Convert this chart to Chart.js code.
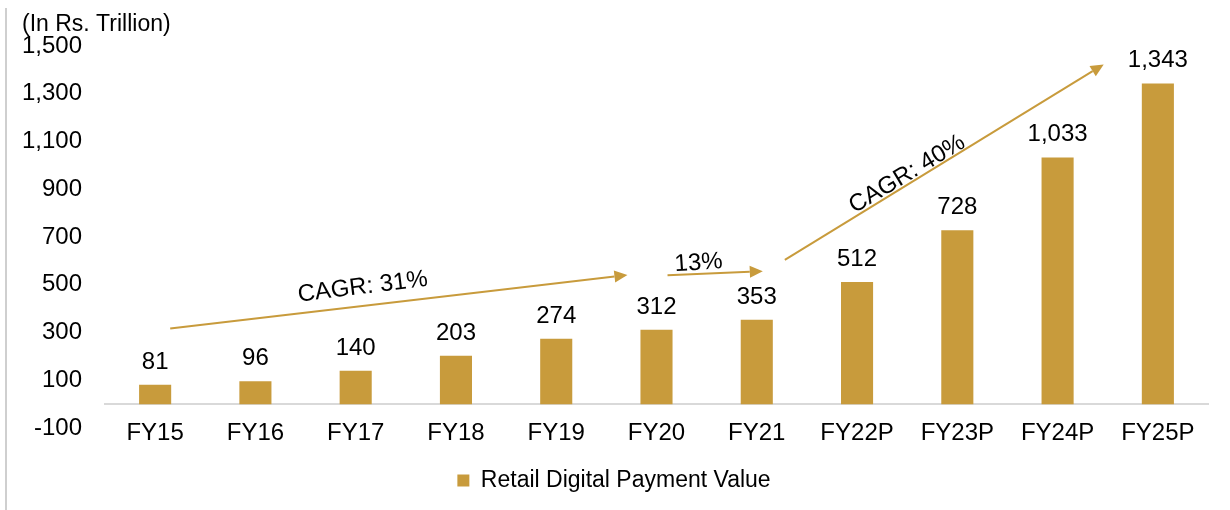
<!DOCTYPE html>
<html>
<head>
<meta charset="utf-8">
<script src="https://cdn.jsdelivr.net/npm/chart.js@4/dist/chart.umd.min.js"></script>
<style>
  html, body { margin: 0; padding: 0; background: #fff; }
  #wrap { width: 1230px; height: 510px; position: relative; }
</style>
</head>
<body>
<div id="wrap"><canvas id="chart" width="1230" height="510"></canvas></div>
<script>
// values (Rs. trillion)
const categories = ['FY15', 'FY16', 'FY17', 'FY18', 'FY19', 'FY20', 'FY21', 'FY22P', 'FY23P', 'FY24P', 'FY25P'];
const paymentValue = [81, 96, 140, 203, 274, 312, 353, 512, 728, 1033, 1343];
const yTicks = [-100, 100, 300, 500, 700, 900, 1100, 1300, 1500];

// growth arrows, in (category index, value) space
const arrows = [
    { from: [0.15, 317], to: [4.71, 541] },
    { from: [5.11, 540], to: [6.06, 557] },
    { from: [6.28, 604], to: [9.46, 1423] },
];
const arrowLabels = [
    { text: 'CAGR: 31%', at: [2.07, 490], angle: -7 },
    { text: '13%', at: [5.42, 591], angle: -4 },
    { text: 'CAGR: 40%', at: [7.5, 963], angle: -31 },
];

const GOLD = '#C89B3C';
const FONT = '"Liberation Sans", Arial, sans-serif';
const fmt = (v) => v.toLocaleString('en-US');

const decorPlugin = {
    id: 'decor',
    beforeDraw(chart) {
        const ctx = chart.ctx;
        ctx.save();
        ctx.strokeStyle = '#cfcfcf';
        ctx.lineWidth = 2;
        ctx.beginPath();
        ctx.moveTo(6, 8);
        ctx.lineTo(6, 510);
        ctx.stroke();
        ctx.fillStyle = '#000';
        ctx.font = '23px ' + FONT;
        ctx.textBaseline = 'middle';
        ctx.textAlign = 'left';
        ctx.fillText('(In Rs. Trillion)', 22, 25);
        ctx.restore();
    },
    afterDatasetsDraw(chart) {
        const ctx = chart.ctx;
        const xs = chart.scales.x;
        const ys = chart.scales.y;
        ctx.save();

        // value labels over bars
        ctx.fillStyle = '#000';
        ctx.font = '24px ' + FONT;
        ctx.textAlign = 'center';
        ctx.textBaseline = 'alphabetic';
        chart.getDatasetMeta(0).data.forEach((bar, i) => {
            ctx.fillText(fmt(paymentValue[i]), bar.x, bar.y - 16);
        });

        // arrows
        ctx.strokeStyle = GOLD;
        ctx.fillStyle = GOLD;
        ctx.lineWidth = 2;
        arrows.forEach(({ from, to }) => {
            const x1 = xs.getPixelForValue(from[0]);
            const y1 = ys.getPixelForValue(from[1]);
            const x2 = xs.getPixelForValue(to[0]);
            const y2 = ys.getPixelForValue(to[1]);
            const a = Math.atan2(y2 - y1, x2 - x1);
            const len = 13;
            const half = 6;
            const bx = x2 - len * Math.cos(a);
            const by = y2 - len * Math.sin(a);
            ctx.beginPath();
            ctx.moveTo(x1, y1);
            ctx.lineTo(bx, by);
            ctx.stroke();
            ctx.beginPath();
            ctx.moveTo(x2, y2);
            ctx.lineTo(bx + half * Math.sin(a), by - half * Math.cos(a));
            ctx.lineTo(bx - half * Math.sin(a), by + half * Math.cos(a));
            ctx.closePath();
            ctx.fill();
        });

        // arrow captions
        ctx.fillStyle = '#000';
        ctx.font = '24px ' + FONT;
        ctx.textBaseline = 'middle';
        arrowLabels.forEach(({ text, at, angle }) => {
            ctx.save();
            ctx.translate(xs.getPixelForValue(at[0]), ys.getPixelForValue(at[1]));
            ctx.rotate(angle * Math.PI / 180);
            ctx.fillText(text, 0, 0);
            ctx.restore();
        });
        ctx.restore();
    },
};

new Chart(document.getElementById('chart'), {
    type: 'bar',
    data: {
        labels: categories,
        datasets: [{
            label: 'Retail Digital Payment Value',
            data: paymentValue,
            backgroundColor: GOLD,
            borderWidth: 0,
            categoryPercentage: 1,
            barPercentage: 0.32,
        }],
    },
    options: {
        responsive: false,
        animation: false,
        layout: { padding: { top: 46, left: 20, right: 22, bottom: 8 } },
        scales: {
            x: {
                position: { y: 0 },
                grid: { display: false, drawTicks: false },
                border: { display: true, color: '#d9d9d9', width: 2 },
                ticks: { color: '#000', font: { family: FONT, size: 24 }, padding: 15, maxRotation: 0 },
            },
            y: {
                min: -100,
                max: 1500,
                afterBuildTicks: (scale) => {
                    scale.ticks = yTicks.map((value) => ({ value }));
                },
                afterFit: (scale) => { scale.width = 85; },
                grid: { display: false, drawTicks: false },
                border: { display: false },
                ticks: {
                    color: '#000',
                    font: { family: FONT, size: 24 },
                    padding: 23,
                    callback: (v) => fmt(v),
                },
            },
        },
        plugins: {
            legend: {
                position: 'bottom',
                title: { display: true, text: '', font: { size: 10 }, padding: { top: 19, bottom: 0 } },
                labels: {
                    color: '#000',
                    font: { family: FONT, size: 23 },
                    boxWidth: 12,
                    boxHeight: 12,
                    padding: 10,
                },
            },
            tooltip: { enabled: false },
        },
    },
    plugins: [decorPlugin],
});
</script>
</body>
</html>
